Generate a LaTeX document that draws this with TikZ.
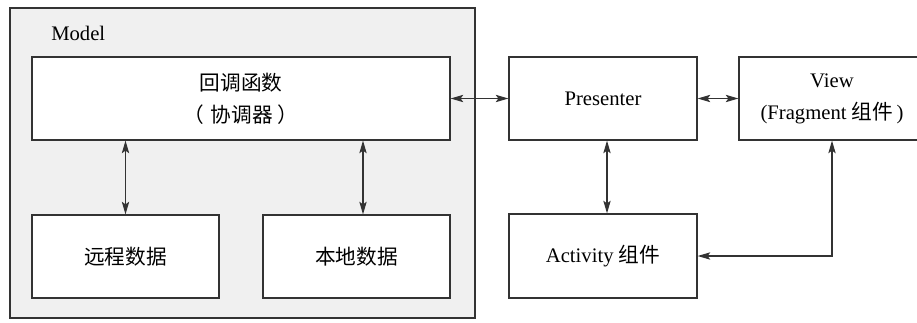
\documentclass[tikz,border=0pt]{standalone}
\usepackage{fontspec}
\setmainfont{Liberation Serif}
\newfontfamily\cjk{Noto Sans CJK SC}
\usetikzlibrary{arrows.meta}
\definecolor{modelfill}{HTML}{F0F0F0}
\definecolor{linec}{HTML}{333333}
\tikzset{
  px/.style={x=0.75pt,y=-0.75pt},
  box/.style={draw=linec,line width=0.9pt,fill=white,inner sep=0pt,align=center,
    font=\fontsize{15.5}{24}\selectfont},
  tipa/.tip={Stealth[length=9.5pt,width=5.5pt,inset=2pt]},
  conn/.style={draw=linec,line width=0.9pt,tipa-tipa},
  modelbox/.style={draw=linec,line width=0.9pt,fill=modelfill,inner sep=0pt},
  lbl/.style={font=\fontsize{15.5}{24}\selectfont,inner sep=0pt}
}
\begin{document}
\begin{tikzpicture}[px]
\useasboundingbox (0,0) rectangle (917,322);
\clip (0,0) rectangle (917,322);
\node[modelbox,minimum width=465*0.75pt,minimum height=310*0.75pt] (model) at (242.5,163) {};
\node[lbl,anchor=west] (modellbl) at (51,33) {Model};
\node[box,minimum width=418*0.75pt,minimum height=83*0.75pt] (callback) at (241,98.5) {{\cjk 回调函数}\\{\cjk （\hspace{0.3em}协调器\ ）}};
\node[box,minimum width=187*0.75pt,minimum height=83*0.75pt] (remote) at (125.5,256.5) {\cjk 远程数据};
\node[box,minimum width=187*0.75pt,minimum height=83*0.75pt] (local) at (356.5,256.5) {\cjk 本地数据};
\node[box,minimum width=188*0.75pt,minimum height=83*0.75pt] (presenter) at (603,98.5) {Presenter};
\node[box,minimum width=186*0.75pt,minimum height=83*0.75pt] (view) at (832,98.5) {View\\(Fragment\ {\cjk 组件}\,)};
\node[box,minimum width=188*0.75pt,minimum height=84*0.75pt] (activity) at (603,256) {Activity\ {\cjk 组件}};
\draw[conn] (callback.east) -- (presenter.west);
\draw[conn] (presenter.east) -- (view.west);
\draw[conn] (callback.south -| remote.north) -- (remote.north);
\draw[conn] ([xshift=6.5*0.75pt]callback.south -| local.north) -- ([xshift=6.5*0.75pt]local.north);
\draw[conn] ([xshift=4*0.75pt]presenter.south) -- ([xshift=4*0.75pt]activity.north);
\draw[conn] (view.south) |- (activity.east);
\end{tikzpicture}
\end{document}
